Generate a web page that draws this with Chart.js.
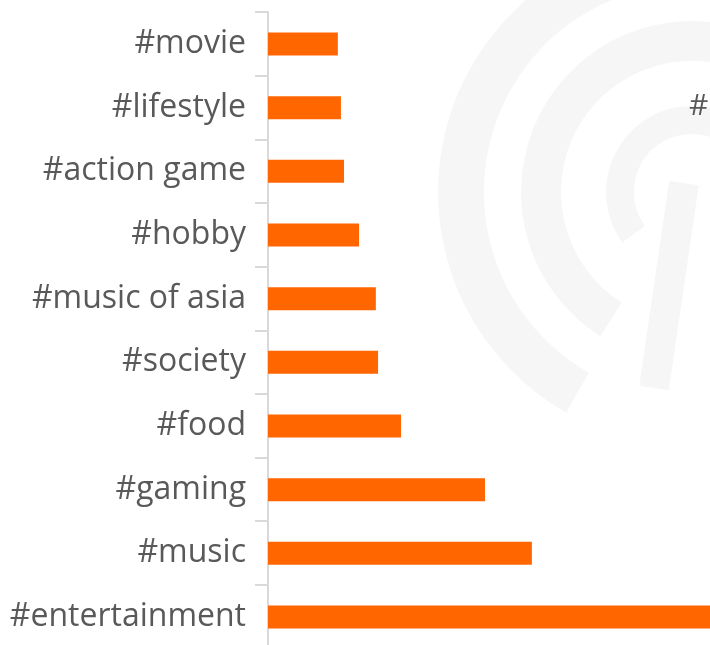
<!DOCTYPE html>
<html>
<head>
<meta charset="utf-8">
<script src="https://cdn.jsdelivr.net/npm/chart.js@4/dist/chart.umd.min.js"></script>
<style>
  html, body { margin: 0; padding: 0; background: #ffffff; overflow: hidden; }
  #wrap { position: absolute; left: 0; top: -16px; width: 710px; height: 693px; }
</style>
</head>
<body>
<div id="wrap"><canvas id="c" width="710" height="693"></canvas></div>
<script>
const categories = ["#movie", "#lifestyle", "#action game", "#hobby", "#music of asia", "#society", "#food", "#gaming", "#music", "#entertainment"];
const shareValues = [15.8, 16.5, 17.2, 20.6, 24.4, 24.9, 30.1, 49.1, 59.7, 100];
const xMin = 0;
const xMax = 100;
const croppedLabel = "#";

const FONT = "'Open Sans', 'Noto Sans', sans-serif";
const TEXT = "#595959";
const SHIFT = 16;

const watermark = {
  id: "watermark",
  beforeDraw(chart) {
    const ctx = chart.ctx;
    ctx.save();
    ctx.translate(0, SHIFT);
    ctx.strokeStyle = "rgba(0,0,0,0.035)";
    ctx.lineCap = "butt";
    ctx.lineWidth = 46;
    ctx.beginPath();
    ctx.arc(692, 192, 231, Math.PI * 0.665, Math.PI * 1.55);
    ctx.stroke();
    ctx.lineWidth = 40;
    ctx.beginPath();
    ctx.arc(692, 192, 151, Math.PI * 0.68, Math.PI * 1.62);
    ctx.stroke();
    ctx.lineWidth = 28;
    ctx.beginPath();
    ctx.arc(692, 192, 72, Math.PI * 0.80, Math.PI * 1.75);
    ctx.stroke();
    ctx.lineWidth = 30;
    ctx.beginPath();
    ctx.moveTo(684, 183);
    ctx.lineTo(654, 388);
    ctx.stroke();
    ctx.restore();
  },
  afterDraw(chart) {
    const ctx = chart.ctx;
    ctx.save();
    ctx.translate(0, SHIFT);
    ctx.fillStyle = TEXT;
    ctx.font = "30px " + FONT;
    ctx.textAlign = "left";
    ctx.textBaseline = "alphabetic";
    ctx.fillText(croppedLabel, 689, 115);
    ctx.restore();
  }
};

new Chart(document.getElementById("c"), {
  type: "bar",
  data: {
    labels: categories,
    datasets: [{
      data: shareValues,
      backgroundColor: "#FF6600",
      borderWidth: 0,
      barPercentage: 0.362,
      categoryPercentage: 1
    }]
  },
  options: {
    indexAxis: "y",
    responsive: false,
    animation: false,
    devicePixelRatio: 1,
    layout: { padding: { top: 12, bottom: 12, left: 0, right: 0 } },
    plugins: { legend: { display: false }, tooltip: { enabled: false } },
    scales: {
      x: {
        display: false,
        min: xMin,
        max: xMax
      },
      y: {
        afterFit(scale) { scale.width = 268; },
        border: { display: true, color: "#d9d9d9", width: 2 },
        grid: {
          drawOnChartArea: false,
          drawTicks: true,
          tickLength: 13,
          color: "#d9d9d9",
          lineWidth: 2,
          offset: true
        },
        ticks: {
          color: TEXT,
          padding: 9,
          font: { family: FONT, size: 32 }
        }
      }
    }
  },
  plugins: [watermark]
});
</script>
</body>
</html>
